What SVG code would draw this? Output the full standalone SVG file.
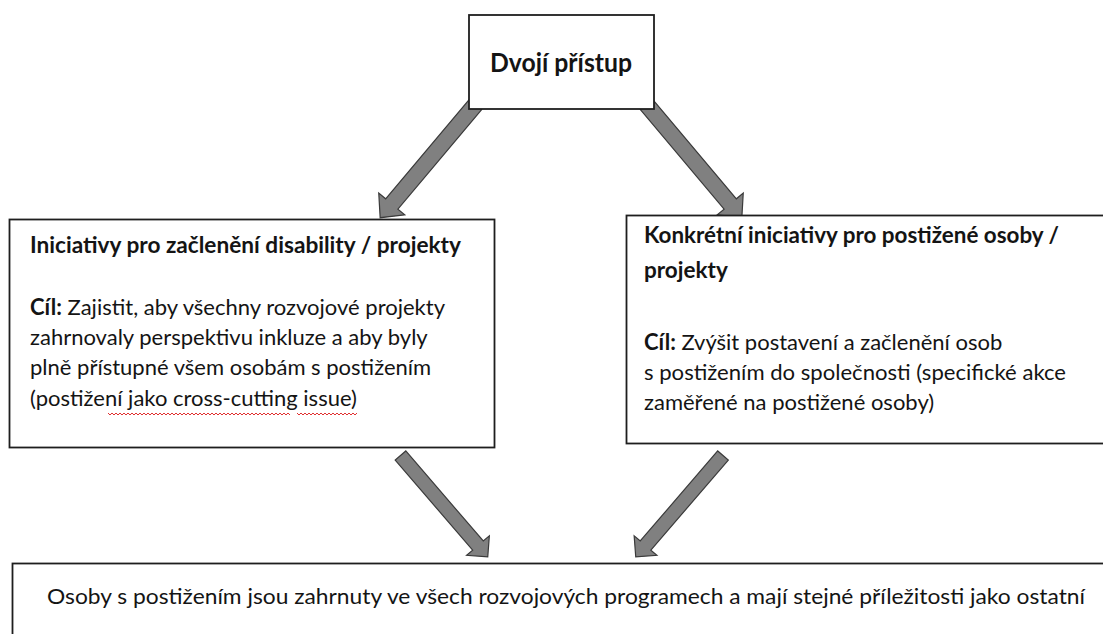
<svg xmlns="http://www.w3.org/2000/svg" width="1103" height="634" viewBox="0 0 1103 634">
<style>
.box{fill:#fff;stroke:#1e1e1e;stroke-width:1.8}
.arr{fill:#808080;stroke:#3a3a3a;stroke-width:1.2;stroke-linejoin:miter}
text{font-family:Lato,"Liberation Sans",sans-serif;fill:#141414;font-size:22px}
.b{font-weight:bold;font-size:22.5px}
.sq{fill:none;stroke:#e03030;stroke-width:1}
</style>
<rect width="1103" height="634" fill="#fff"/>
<g id="connectors">
<polygon class="arr" points="0,-8 130,-8 130,-17 148,0 130,17 130,8 0,8" transform="translate(646.5,104.5) rotate(49.9)"/>
<polygon class="arr" points="0,-8 130,-8 130,-17 148,0 130,17 130,8 0,8" transform="translate(475.5,104.5) rotate(130.1)"/>
<polygon class="arr" points="0,-7 118.8,-7 118.8,-15 133.8,0 118.8,15 118.8,7 0,7" transform="translate(400.5,455.5) rotate(49.3)"/>
<polygon class="arr" points="0,-7 118.8,-7 118.8,-15 133.8,0 118.8,15 118.8,7 0,7" transform="translate(723,455.5) rotate(130.7)"/>
</g>
<g id="top">
<rect class="box" x="469" y="15" width="185" height="94"/>
<text class="b" x="490" y="72" style="font-size:26px" textLength="142" lengthAdjust="spacingAndGlyphs">Dvojí přístup</text>
</g>
<g id="left">
<rect class="box" x="9.5" y="219.5" width="485" height="228"/>
<text class="b" x="30" y="253" textLength="431" lengthAdjust="spacingAndGlyphs">Iniciativy pro začlenění disability / projekty</text>
<text x="30" y="315" textLength="415" lengthAdjust="spacingAndGlyphs"><tspan class="b" style="font-size:22px">Cíl:</tspan> Zajistit, aby všechny rozvojové projekty</text>
<text x="30" y="345">zahrnovaly perspektivu inkluze a aby byly</text>
<text x="30" y="375">plně přístupné všem osobám s postižením</text>
<text x="30" y="406">(postižení jako cross-cutting issue)</text>
<path class="sq" d="M108,413 l2,2 l2,-2 l2,2 l2,-2 l2,2 l2,-2 l2,2 l2,-2 l2,2 l2,-2 l2,2 l2,-2 l2,2 l2,-2 l2,2 l2,-2 l2,2 l2,-2 l2,2 l2,-2 l2,2 l2,-2 l2,2 l2,-2 l2,2 l2,-2 l2,2 l2,-2 l2,2 l2,-2 l2,2 l2,-2 l2,2 l2,-2 l2,2 l2,-2 l2,2 l2,-2 l2,2 l2,-2 l2,2 l2,-2 l2,2 l2,-2 l2,2 l2,-2 l2,2 l2,-2 l2,2 l2,-2 l2,2 l2,-2 l2,2 l2,-2 l2,2 l2,-2 l2,2 l2,-2 l2,2 l2,-2 l2,2 l2,-2 l2,2 l2,-2 l2,2 l2,-2 l2,2 l2,-2 l2,2 l2,-2 l2,2 l2,-2 l2,2 l2,-2 l2,2 l2,-2 l2,2 l2,-2 l2,2 l2,-2 l2,2 l2,-2 l2,2 l2,-2 l2,2 l2,-2 l2,2 l2,-2 l2,2 l2,-2 l2,2"/>
<path class="sq" d="M297,413 l2,2 l2,-2 l2,2 l2,-2 l2,2 l2,-2 l2,2 l2,-2 l2,2 l2,-2 l2,2 l2,-2 l2,2 l2,-2 l2,2 l2,-2 l2,2 l2,-2 l2,2 l2,-2 l2,2 l2,-2 l2,2 l2,-2 l2,2 l2,-2 l2,2 l2,-2 l2,2 l2,-2"/>
</g>
<g id="right">
<rect class="box" x="626.5" y="215.5" width="480" height="228"/>
<text class="b" x="644" y="243" textLength="415" lengthAdjust="spacingAndGlyphs">Konkrétní iniciativy pro postižené osoby /</text>
<text class="b" x="644" y="278">projekty</text>
<text x="644" y="350"><tspan class="b" style="font-size:22px">Cíl:</tspan> Zvýšit postavení a začlenění osob</text>
<text x="644" y="380" textLength="422" lengthAdjust="spacingAndGlyphs">s postižením do společnosti (specifické akce</text>
<text x="644" y="410">zaměřené na postižené osoby)</text>
</g>
<g id="bottom">
<rect class="box" x="12.5" y="563.5" width="1095" height="100"/>
<text x="47" y="604" textLength="1038" lengthAdjust="spacingAndGlyphs">Osoby s postižením jsou zahrnuty ve všech rozvojových programech a mají stejné příležitosti jako ostatní</text>
</g>
</svg>
